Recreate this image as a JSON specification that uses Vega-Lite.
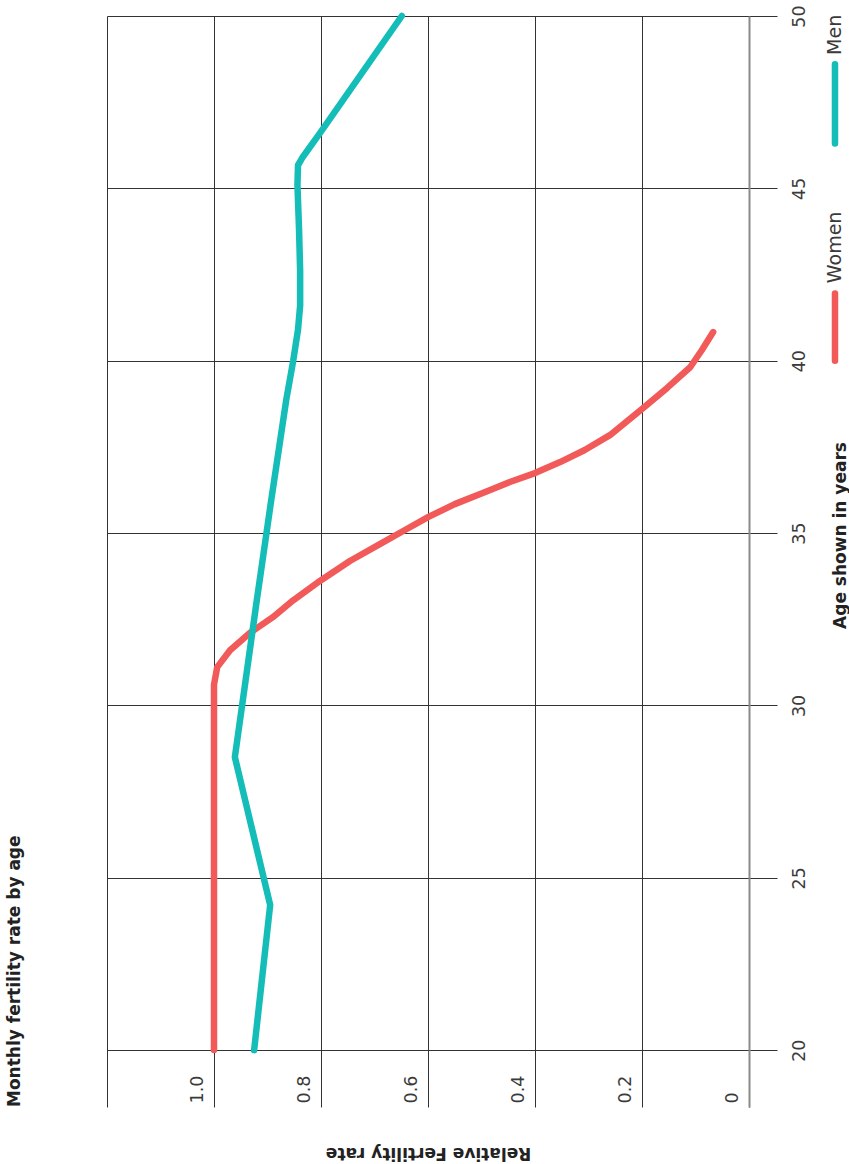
{
  "$schema": "https://vega.github.io/schema/vega-lite/v6.json",
  "autosize": {"type": "none"},
  "width": 642,
  "height": 1091,
  "padding": {"left": 107, "top": 16, "right": 100, "bottom": 57},
  "background": "white",
  "config": {
    "view": {"stroke": null},
    "font": "DejaVu Sans",
    "axis": {
      "grid": true, "gridColor": "#333333", "gridWidth": 1,
      "labelFont": "DejaVu Sans", "labelFontSize": 17.5, "labelFontWeight": "normal", "labelColor": "#3a3a3a",
      "labelFlush": false, "labelOverlap": false,
      "titleFont": "DejaVu Sans", "titleFontSize": 17, "titleFontWeight": "bold", "titleColor": "#222222"
    }
  },
  "title": {
    "text": "Monthly fertility rate by age",
    "orient": "left",
    "anchor": "start",
    "frame": "group",
    "angle": -90,
    "baseline": "alphabetic",
    "offset": 44,
    "font": "DejaVu Sans",
    "fontSize": 17,
    "fontWeight": "bold",
    "color": "#222222"
  },
  "layer": [
    {
      "data": {
        "values": [
          {"series": "Women", "age": 20, "fertility": 1.0},
          {"series": "Women", "age": 30.6, "fertility": 1.0},
          {"series": "Women", "age": 31.11, "fertility": 0.994},
          {"series": "Women", "age": 31.6, "fertility": 0.97},
          {"series": "Women", "age": 32.1, "fertility": 0.933},
          {"series": "Women", "age": 32.56, "fertility": 0.89},
          {"series": "Women", "age": 33.05, "fertility": 0.852},
          {"series": "Women", "age": 33.61, "fertility": 0.802},
          {"series": "Women", "age": 34.19, "fertility": 0.746},
          {"series": "Women", "age": 34.68, "fertility": 0.69},
          {"series": "Women", "age": 35.09, "fertility": 0.643},
          {"series": "Women", "age": 35.46, "fertility": 0.6},
          {"series": "Women", "age": 35.84, "fertility": 0.55},
          {"series": "Women", "age": 36.19, "fertility": 0.493},
          {"series": "Women", "age": 36.48, "fertility": 0.447},
          {"series": "Women", "age": 36.74, "fertility": 0.4},
          {"series": "Women", "age": 37.06, "fertility": 0.353},
          {"series": "Women", "age": 37.41, "fertility": 0.307},
          {"series": "Women", "age": 37.84, "fertility": 0.26},
          {"series": "Women", "age": 38.6, "fertility": 0.2},
          {"series": "Women", "age": 39.21, "fertility": 0.153},
          {"series": "Women", "age": 39.81, "fertility": 0.11},
          {"series": "Women", "age": 40.31, "fertility": 0.088},
          {"series": "Women", "age": 40.83, "fertility": 0.067},
          {"series": "Men", "age": 20, "fertility": 0.925},
          {"series": "Men", "age": 24.21, "fertility": 0.895},
          {"series": "Men", "age": 28.5, "fertility": 0.961},
          {"series": "Men", "age": 33.05, "fertility": 0.92},
          {"series": "Men", "age": 35.96, "fertility": 0.893},
          {"series": "Men", "age": 38.86, "fertility": 0.865},
          {"series": "Men", "age": 39.99, "fertility": 0.852},
          {"series": "Men", "age": 40.9, "fertility": 0.843},
          {"series": "Men", "age": 41.6, "fertility": 0.839},
          {"series": "Men", "age": 42.6, "fertility": 0.839},
          {"series": "Men", "age": 43.79, "fertility": 0.841},
          {"series": "Men", "age": 45.09, "fertility": 0.844},
          {"series": "Men", "age": 45.67, "fertility": 0.843},
          {"series": "Men", "age": 45.91, "fertility": 0.834},
          {"series": "Men", "age": 46.6, "fertility": 0.802},
          {"series": "Men", "age": 50, "fertility": 0.649}
        ]
      },
      "mark": {"type": "line", "strokeWidth": 6.5, "strokeCap": "round", "strokeJoin": "round"},
      "encoding": {
        "x": {
          "field": "fertility", "type": "quantitative",
          "scale": {"domain": [0, 1.2], "reverse": true, "nice": false, "zero": false},
          "axis": {
            "orient": "bottom", "values": [0, 0.2, 0.4, 0.6, 0.8, 1.0, 1.2],
            "labelExpr": "datum.value == 0 ? '0' : (datum.value > 1.1 ? '' : format(datum.value, '.1f'))",
            "domain": false, "ticks": false, "tickSize": 0,
            "labelAngle": -90, "labelAlign": "left", "labelBaseline": "alphabetic",
            "labelOffset": -12, "labelPadding": -4, "labelBound": false,
            "title": "Relative Fertility rate", "titleAngle": 180, "titleAlign": "center", "titleBaseline": "middle", "titleY": 45
          }
        },
        "y": {
          "field": "age", "type": "quantitative",
          "scale": {"domain": [18.35, 50], "nice": false, "zero": false},
          "axis": {
            "orient": "right", "values": [20, 25, 30, 35, 40, 45, 50],
            "domain": true, "domainColor": "#8a8a8a", "domainWidth": 2,
            "ticks": true, "tickSize": 28, "tickColor": "#333333", "tickWidth": 1,
            "labelAngle": -90, "labelAlign": "center", "labelBaseline": "middle", "labelPadding": 22,
            "title": "Age shown in years", "titleAngle": -90, "titleAlign": "center", "titleBaseline": "middle", "titleX": 91, "titleY": 519
          }
        },
        "color": {
          "field": "series", "type": "nominal",
          "scale": {"domain": ["Women", "Men"], "range": ["#F25A5A", "#14BDB8"]},
          "legend": null
        },
        "order": {"field": "age", "type": "quantitative"},
        "detail": {"field": "series"}
      }
    },
    {
      "data": {"values": [{"series": "Women"}]},
      "mark": {"type": "rule", "strokeWidth": 6.5, "strokeCap": "round", "color": "#F25A5A"},
      "encoding": {
        "x": {
          "datum": -0.1607, "type": "quantitative",
          "axis": {
            "orient": "bottom", "values": [0, 0.2, 0.4, 0.6, 0.8, 1.0, 1.2],
            "labelExpr": "datum.value == 0 ? '0' : (datum.value > 1.1 ? '' : format(datum.value, '.1f'))",
            "domain": false, "ticks": false, "tickSize": 0,
            "labelAngle": -90, "labelAlign": "left", "labelBaseline": "alphabetic",
            "labelOffset": -12, "labelPadding": -4, "labelBound": false,
            "title": "Relative Fertility rate", "titleAngle": 180, "titleAlign": "center", "titleBaseline": "middle", "titleY": 45
          }
        },
        "y": {
          "datum": 40.0, "type": "quantitative",
          "axis": {
            "orient": "right", "values": [20, 25, 30, 35, 40, 45, 50],
            "domain": true, "domainColor": "#8a8a8a", "domainWidth": 2,
            "ticks": true, "tickSize": 28, "tickColor": "#333333", "tickWidth": 1,
            "labelAngle": -90, "labelAlign": "center", "labelBaseline": "middle", "labelPadding": 22,
            "title": "Age shown in years", "titleAngle": -90, "titleAlign": "center", "titleBaseline": "middle", "titleX": 91, "titleY": 519
          }
        },
        "y2": {"datum": 41.95}
      }
    },
    {
      "data": {"values": [{"series": "Women"}]},
      "mark": {"type": "text", "angle": 270, "align": "left", "baseline": "middle", "fontSize": 19, "fontWeight": "normal", "color": "#3a3a3a", "font": "DejaVu Sans"},
      "encoding": {
        "x": {
          "datum": -0.1607, "type": "quantitative",
          "axis": {
            "orient": "bottom", "values": [0, 0.2, 0.4, 0.6, 0.8, 1.0, 1.2],
            "labelExpr": "datum.value == 0 ? '0' : (datum.value > 1.1 ? '' : format(datum.value, '.1f'))",
            "domain": false, "ticks": false, "tickSize": 0,
            "labelAngle": -90, "labelAlign": "left", "labelBaseline": "alphabetic",
            "labelOffset": -12, "labelPadding": -4, "labelBound": false,
            "title": "Relative Fertility rate", "titleAngle": 180, "titleAlign": "center", "titleBaseline": "middle", "titleY": 45
          }
        },
        "y": {
          "datum": 42.25, "type": "quantitative",
          "axis": {
            "orient": "right", "values": [20, 25, 30, 35, 40, 45, 50],
            "domain": true, "domainColor": "#8a8a8a", "domainWidth": 2,
            "ticks": true, "tickSize": 28, "tickColor": "#333333", "tickWidth": 1,
            "labelAngle": -90, "labelAlign": "center", "labelBaseline": "middle", "labelPadding": 22,
            "title": "Age shown in years", "titleAngle": -90, "titleAlign": "center", "titleBaseline": "middle", "titleX": 91, "titleY": 519
          }
        },
        "text": {"field": "series"}
      }
    },
    {
      "data": {"values": [{"series": "Men"}]},
      "mark": {"type": "rule", "strokeWidth": 6.5, "strokeCap": "round", "color": "#14BDB8"},
      "encoding": {
        "x": {
          "datum": -0.1607, "type": "quantitative",
          "axis": {
            "orient": "bottom", "values": [0, 0.2, 0.4, 0.6, 0.8, 1.0, 1.2],
            "labelExpr": "datum.value == 0 ? '0' : (datum.value > 1.1 ? '' : format(datum.value, '.1f'))",
            "domain": false, "ticks": false, "tickSize": 0,
            "labelAngle": -90, "labelAlign": "left", "labelBaseline": "alphabetic",
            "labelOffset": -12, "labelPadding": -4, "labelBound": false,
            "title": "Relative Fertility rate", "titleAngle": 180, "titleAlign": "center", "titleBaseline": "middle", "titleY": 45
          }
        },
        "y": {
          "datum": 46.3, "type": "quantitative",
          "axis": {
            "orient": "right", "values": [20, 25, 30, 35, 40, 45, 50],
            "domain": true, "domainColor": "#8a8a8a", "domainWidth": 2,
            "ticks": true, "tickSize": 28, "tickColor": "#333333", "tickWidth": 1,
            "labelAngle": -90, "labelAlign": "center", "labelBaseline": "middle", "labelPadding": 22,
            "title": "Age shown in years", "titleAngle": -90, "titleAlign": "center", "titleBaseline": "middle", "titleX": 91, "titleY": 519
          }
        },
        "y2": {"datum": 48.6}
      }
    },
    {
      "data": {"values": [{"series": "Men"}]},
      "mark": {"type": "text", "angle": 270, "align": "left", "baseline": "middle", "fontSize": 19, "fontWeight": "normal", "color": "#3a3a3a", "font": "DejaVu Sans"},
      "encoding": {
        "x": {
          "datum": -0.1607, "type": "quantitative",
          "axis": {
            "orient": "bottom", "values": [0, 0.2, 0.4, 0.6, 0.8, 1.0, 1.2],
            "labelExpr": "datum.value == 0 ? '0' : (datum.value > 1.1 ? '' : format(datum.value, '.1f'))",
            "domain": false, "ticks": false, "tickSize": 0,
            "labelAngle": -90, "labelAlign": "left", "labelBaseline": "alphabetic",
            "labelOffset": -12, "labelPadding": -4, "labelBound": false,
            "title": "Relative Fertility rate", "titleAngle": 180, "titleAlign": "center", "titleBaseline": "middle", "titleY": 45
          }
        },
        "y": {
          "datum": 48.87, "type": "quantitative",
          "axis": {
            "orient": "right", "values": [20, 25, 30, 35, 40, 45, 50],
            "domain": true, "domainColor": "#8a8a8a", "domainWidth": 2,
            "ticks": true, "tickSize": 28, "tickColor": "#333333", "tickWidth": 1,
            "labelAngle": -90, "labelAlign": "center", "labelBaseline": "middle", "labelPadding": 22,
            "title": "Age shown in years", "titleAngle": -90, "titleAlign": "center", "titleBaseline": "middle", "titleX": 91, "titleY": 519
          }
        },
        "text": {"field": "series"}
      }
    }
  ]
}
